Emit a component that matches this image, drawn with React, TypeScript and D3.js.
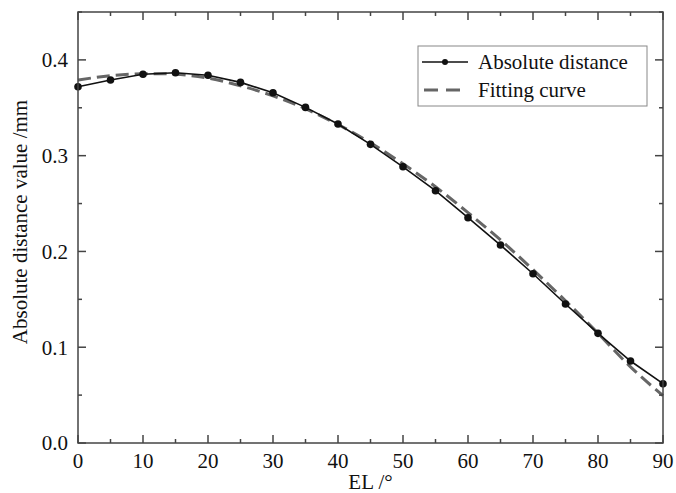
import React from "react";
import * as d3 from "d3";

const elAngles = [0, 5, 10, 15, 20, 25, 30, 35, 40, 45, 50, 55, 60, 65, 70, 75, 80, 85, 90];
const absDistance = [0.372, 0.379, 0.385, 0.3866, 0.384, 0.3765, 0.3657, 0.3504, 0.333, 0.3118, 0.2884, 0.2634, 0.2352, 0.2067, 0.1767, 0.1451, 0.1145, 0.0856, 0.0619];
const fitCurve = [0.379, 0.3835, 0.3855, 0.385, 0.381, 0.373, 0.3625, 0.349, 0.3325, 0.3135, 0.2915, 0.2675, 0.2405, 0.212, 0.181, 0.1485, 0.1145, 0.0795, 0.0495];
const xMajorTicks = [0, 10, 20, 30, 40, 50, 60, 70, 80, 90];
const xMinorTicks = [5, 15, 25, 35, 45, 55, 65, 75, 85];
const yMajorTicks = [0.0, 0.1, 0.2, 0.3, 0.4];
const yMinorTicks = [0.05, 0.15, 0.25, 0.35, 0.45];
const seriesNames = ["Absolute distance", "Fitting curve"];
const xLabel = "EL /°";
const yLabel = "Absolute distance value /mm";

export default function App() {
  const W = 676, H = 493;
  const left = 78, right = 663, top = 12, bottom = 443;
  const x = d3.scaleLinear().domain([0, 90]).range([left, right]);
  const y = d3.scaleLinear().domain([0, 0.45]).range([bottom, top]);
  const font = "'Liberation Serif', 'Times New Roman', serif";
  const axisColor = "#444";

  const dataLine = d3.line<number>().x((_, i) => x(elAngles[i])).y((d) => y(d)).curve(d3.curveLinear);
  const fitLine = d3.line<number>().x((_, i) => x(elAngles[i])).y((d) => y(d)).curve(d3.curveNatural);

  const majorLen = 8, minorLen = 4;

  return (
    <svg width={W} height={H} style={{ position: "absolute", left: 0, top: 0 }} fontFamily={font}>
      <rect x={0} y={0} width={W} height={H} fill="#fff" />
      <path d={fitLine(fitCurve) || ""} fill="none" stroke="#666" strokeWidth={3} strokeDasharray="13,6" />
      <path d={dataLine(absDistance) || ""} fill="none" stroke="#111" strokeWidth={1.6} />
      {absDistance.map((v, i) => (
        <circle key={i} cx={x(elAngles[i])} cy={y(v)} r={3.8} fill="#111" />
      ))}
      <g stroke={axisColor} strokeWidth={1.5}>
        {xMajorTicks.map((t) => (
          <g key={"xM" + t}>
            <line x1={x(t)} x2={x(t)} y1={bottom} y2={bottom - majorLen} />
            <line x1={x(t)} x2={x(t)} y1={top} y2={top + majorLen} />
          </g>
        ))}
        {xMinorTicks.map((t) => (
          <g key={"xm" + t}>
            <line x1={x(t)} x2={x(t)} y1={bottom} y2={bottom - minorLen} />
            <line x1={x(t)} x2={x(t)} y1={top} y2={top + minorLen} />
          </g>
        ))}
        {yMajorTicks.map((t) => (
          <g key={"yM" + t}>
            <line x1={left} x2={left + majorLen} y1={y(t)} y2={y(t)} />
            <line x1={right} x2={right - majorLen} y1={y(t)} y2={y(t)} />
          </g>
        ))}
        {yMinorTicks.map((t) => (
          <g key={"ym" + t}>
            <line x1={left} x2={left + minorLen} y1={y(t)} y2={y(t)} />
            <line x1={right} x2={right - minorLen} y1={y(t)} y2={y(t)} />
          </g>
        ))}
      </g>
      <rect x={left} y={top} width={right - left} height={bottom - top} fill="none" stroke={axisColor} strokeWidth={1.5} />
      <g fontSize={21} fill="#111">
        {xMajorTicks.map((t) => (
          <text key={"xl" + t} x={x(t)} y={468} textAnchor="middle">{t}</text>
        ))}
        {yMajorTicks.map((t) => (
          <text key={"yl" + t} x={68} y={y(t)} dy="0.35em" textAnchor="end">{d3.format(".1f")(t)}</text>
        ))}
      </g>
      <text x={(left + right) / 2} y={489} textAnchor="middle" fontSize={21} fill="#111">{xLabel}</text>
      <text transform={`translate(27, ${222}) rotate(-90)`} textAnchor="middle" fontSize={21} fill="#111">{yLabel}</text>
      <rect x={418} y={46} width={229} height={60} fill="#fff" stroke="#888" strokeWidth={1} />
      <line x1={422} x2={468} y1={62} y2={62} stroke="#111" strokeWidth={1.6} />
      <circle cx={445} cy={62} r={3} fill="#111" />
      <text x={478} y={62} dy="0.35em" fontSize={21} fill="#111">{seriesNames[0]}</text>
      <line x1={424} x2={468} y1={90} y2={90} stroke="#666" strokeWidth={3} strokeDasharray="14,8" />
      <text x={478} y={90} dy="0.35em" fontSize={21} fill="#111">{seriesNames[1]}</text>
    </svg>
  );
}
